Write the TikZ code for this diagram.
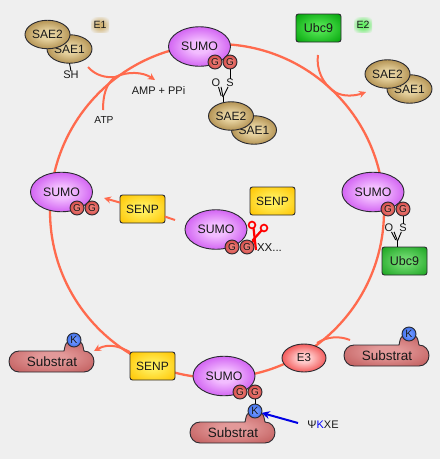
\documentclass[tikz,border=0pt]{standalone}
\usepackage{fontspec}
\setmainfont{Liberation Sans}
\usetikzlibrary{shapes.geometric,arrows.meta}
\definecolor{bgc}{HTML}{EFEFEF}
\definecolor{cyc}{HTML}{FF6A4D}
\definecolor{edgec}{HTML}{2A2A30}
\newcommand{\softshade}[3]{\pgfdeclareradialshading{#1}{\pgfpointorigin}{rgb(0bp)=(#2); rgb(8bp)=(#2); rgb(33bp)=(#3); rgb(50bp)=(#3)}}
\softshade{sumoS}{0.95,0.74,1}{0.77,0.24,0.93}
\softshade{saeS}{0.90,0.82,0.62}{0.62,0.47,0.20}
\softshade{gS}{0.92,0.48,0.45}{0.80,0.22,0.22}
\softshade{kS}{0.42,0.58,1}{0.18,0.38,0.88}
\softshade{yS}{1,0.93,0.35}{1,0.78,0.02}
\softshade{ubcS}{0.30,0.88,0.30}{0.03,0.66,0.06}
\softshade{ubcRS}{0.42,0.84,0.42}{0.13,0.66,0.15}
\softshade{eS}{1,0.78,0.78}{0.93,0.16,0.16}
\softshade{subS}{0.89,0.60,0.60}{0.76,0.37,0.37}
\softshade{tanglow}{0.82,0.70,0.45}{0.937,0.937,0.937}
\softshade{greenglow}{0.40,0.93,0.40}{0.937,0.937,0.937}
\tikzset{
 x=1pt,y=-1pt,
 every node/.style={inner sep=0pt,outer sep=0pt,text=black!90},
 base/.style={draw=edgec,line width=0.9pt},
 sumo/.style={base,ellipse,minimum width=62pt,minimum height=39.5pt,shade,shading=sumoS,font=\fontsize{12.3}{14}\selectfont},
 sae/.style={base,ellipse,minimum width=45pt,minimum height=28.5pt,shade,shading=saeS,font=\fontsize{12}{14}\selectfont},
 gg/.style={base,circle,minimum size=14pt,shade,shading=gS,font=\fontsize{10}{11}\selectfont},
 kk/.style={base,circle,minimum size=14pt,shade,shading=kS,font=\fontsize{10.5}{11}\selectfont},
 ubc/.style={base,rectangle,rounded corners=2.5pt,minimum width=45pt,minimum height=28pt,font=\fontsize{12.5}{14}\selectfont},
 senp/.style={base,rectangle,rounded corners=2.5pt,minimum width=45pt,minimum height=28pt,shade,shading=yS,font=\fontsize{12}{14}\selectfont},
 ethree/.style={base,ellipse,minimum width=44pt,minimum height=28pt,shade,shading=eS,font=\fontsize{11.5}{13}\selectfont},
 lab/.style={font=\fontsize{11}{12}\selectfont},
 atom/.style={font=\fontsize{11}{12}\selectfont},
 cycline/.style={draw=cyc,line width=2.3pt},
 branch/.style={draw=cyc,line width=2pt,-{Stealth[length=7pt,width=7pt]}},
 branchp/.style={draw=cyc,line width=2pt},
 bond/.style={draw=black,line width=0.9pt},
 glow/.style={rectangle,minimum width=18pt,minimum height=15pt,font=\fontsize{10.5}{12}\selectfont},
 subbody/.style={draw=edgec,line width=0.9pt,shade,shading=subS},
 subtext/.style={font=\fontsize{13.5}{15}\selectfont},
}
\newcommand{\substrat}[3]{%
 \begin{scope}[shift={(#2,#3)}]
  \path[subbody] (10,0) -- (55,0) .. controls (56,-4) and (56,-8) .. (59,-9) -- (71,-9) .. controls (74,-8) and (74,-4) .. (75,0) .. controls (81,0) and (85,5) .. (85,10.5) .. controls (85,16) and (81,21) .. (75,21) -- (10,21) .. controls (4,21) and (0,16) .. (0,10.5) .. controls (0,5) and (4,0) .. (10,0) -- cycle;
  \node[subtext] (sub#1) at (43,11) {Substrat};
  \node[kk] (k#1) at (65,-11) {K};
 \end{scope}}
\newcommand{\lowtext}[1]{\raisebox{-3.5pt}{#1}}
\begin{document}
\begin{tikzpicture}
\useasboundingbox[fill=bgc] (0,0) rectangle (440,459);
% main cycle
\node[circle,cycline,minimum size=334pt] (cycle) at (217,211) {};
% free ends and joints
\coordinate (e1start) at (88,67);
\coordinate (e1join) at (115,77);
\coordinate (ampend) at (155,80);
\coordinate (atpstart) at (103,110);
\coordinate (ubcstart) at (318,55);
\coordinate (ubcjoin) at (335,92);
\coordinate (saeend) at (366,92);
\coordinate (senpstart) at (175,220);
\coordinate (senpend) at (104,198);
\coordinate (subend) at (94,351);
\coordinate (substart) at (350,340);
\coordinate (subjoin) at (317,343);
\coordinate (motifstart) at (298,423);
% branches
\draw[branch] (e1start) .. controls (95,75) and (105,78) .. (e1join) .. controls (128,71) and (143,72) .. (ampend);
\draw[branchp] (atpstart) .. controls (103,95) and (106,84) .. (e1join);
\draw[branch] (ubcstart) .. controls (316,68) and (322,84) .. (ubcjoin) .. controls (343,97) and (355,96) .. (saeend);
\draw[branchp] (substart) .. controls (340,336) and (328,336) .. (subjoin);
% nodes
\node[sae] (saeB) at (69.5,49) {\lowtext{SAE1}};
\node[sae] (saeA) at (47.5,34.5) {SAE2};
\node[lab] (sh) at (71,75) {SH};
\draw[bond] (saeB.south) -- (sh.north);
\node[glow,shade,shading=tanglow] (eone) at (100,25) {E1};
\node[ubc,shade,shading=ubcS] (ubcT) at (318.5,28) {Ubc9};
\node[glow,shade,shading=greenglow] (etwo) at (363,25) {E2};
\node[sae] (saeD) at (409.5,89) {\lowtext{SAE1}};
\node[sae] (saeC) at (387.5,74) {SAE2};
\node[lab] (amp) at (158.5,90.5) {AMP + PPi};
\node[lab,font=\fontsize{10.2}{12}\selectfont] (atp) at (104,120) {ATP};
% top SUMO
\node[sumo] (sumoT) at (199.5,46.5) {SUMO};
\node[gg] (gT1) at (215,62) {G};
\node[gg] (gT2) at (230,62) {G};
\node[sae] (saeF) at (254,130) {\lowtext{SAE1}};
\node[sae] (saeE) at (231,116) {SAE2};
\node[atom] (sT) at (230,83) {S};
\node[atom] (oT) at (216,83) {O};
\coordinate (jT) at (223,97);
\draw[bond] (gT2) -- (sT);
\draw[bond] (sT) -- (jT);
\draw[bond] ([xshift=0.8pt]oT.south east) -- (jT);
\draw[bond] ([xshift=-1.8pt]oT.south east) -- ([xshift=-1.8pt,yshift=1pt]jT);
\draw[bond] (jT) -- (jT |- saeE.north);
% right SUMO
\node[sumo] (sumoR) at (373,192) {SUMO};
\node[gg] (gR1) at (388,209) {G};
\node[gg] (gR2) at (403,209) {G};
\node[ubc,shade,shading=ubcRS] (ubcR) at (404.5,261) {Ubc9};
\node[atom] (sR) at (403,228) {S};
\node[atom] (oR) at (389,228) {O};
\coordinate (jR) at (397.5,241);
\draw[bond] (gR2) -- (sR);
\draw[bond] (sR) -- (jR);
\draw[bond] ([xshift=0.8pt]oR.south east) -- (jR);
\draw[bond] ([xshift=-1.8pt]oR.south east) -- ([xshift=-1.8pt,yshift=1pt]jR);
\draw[bond] (jR) -- (jR |- ubcR.north);
% left SUMO and SENP
\node[sumo] (sumoL) at (61.5,192) {SUMO};
\node[gg] (gL1) at (77,208) {G};
\node[gg] (gL2) at (92,208) {G};
\node[senp] (senpL) at (142.5,209) {SENP};
\draw[branchp] (senpstart) -- (senpL);
\draw[branch] (senpL) -- (senpend);
% centre SUMO
\node[senp] (senpC) at (272.5,201) {SENP};
\node[sumo] (sumoC) at (216,229.5) {SUMO};
\draw[red,line width=1.7pt] (252,225) circle (3.4pt);
\draw[red,line width=1.7pt] (264,228) circle (3.4pt);
\draw[red,line width=2.2pt] (253.5,228) -- (256,250);
\draw[red,line width=2.2pt] (261.5,230.5) -- (253,240) -- (251,250);
\node[gg] (gC1) at (232,247) {G};
\node[gg] (gC2) at (247,247) {G};
\node[lab,anchor=west,font=\fontsize{11.5}{12}\selectfont] (xx) at (257,247.5) {XX...};
% bottom elements
\node[senp] (senpB) at (152.5,366) {SENP};
\draw[branch] (senpB.north west) .. controls (122,348) and (110,342) .. (subend);
\node[ethree] (ethree) at (304,358) {E3};
\substrat{L}{9}{351}
\substrat{R}{344}{345}
\node[sumo] (sumoB) at (224,376) {SUMO};
\node[gg] (gB1) at (240,392) {G};
\node[gg] (gB2) at (255,392) {G};
\substrat{B}{190}{422}
\draw[bond] (gB2) -- (kB);
\draw[blue!90!black,line width=2pt,-{Stealth[length=8pt,width=8pt]}] (motifstart) -- (kB);
\node[lab] (motif) at (323,425) {Ψ\textcolor{blue}{K}XE};
\end{tikzpicture}
\end{document}
